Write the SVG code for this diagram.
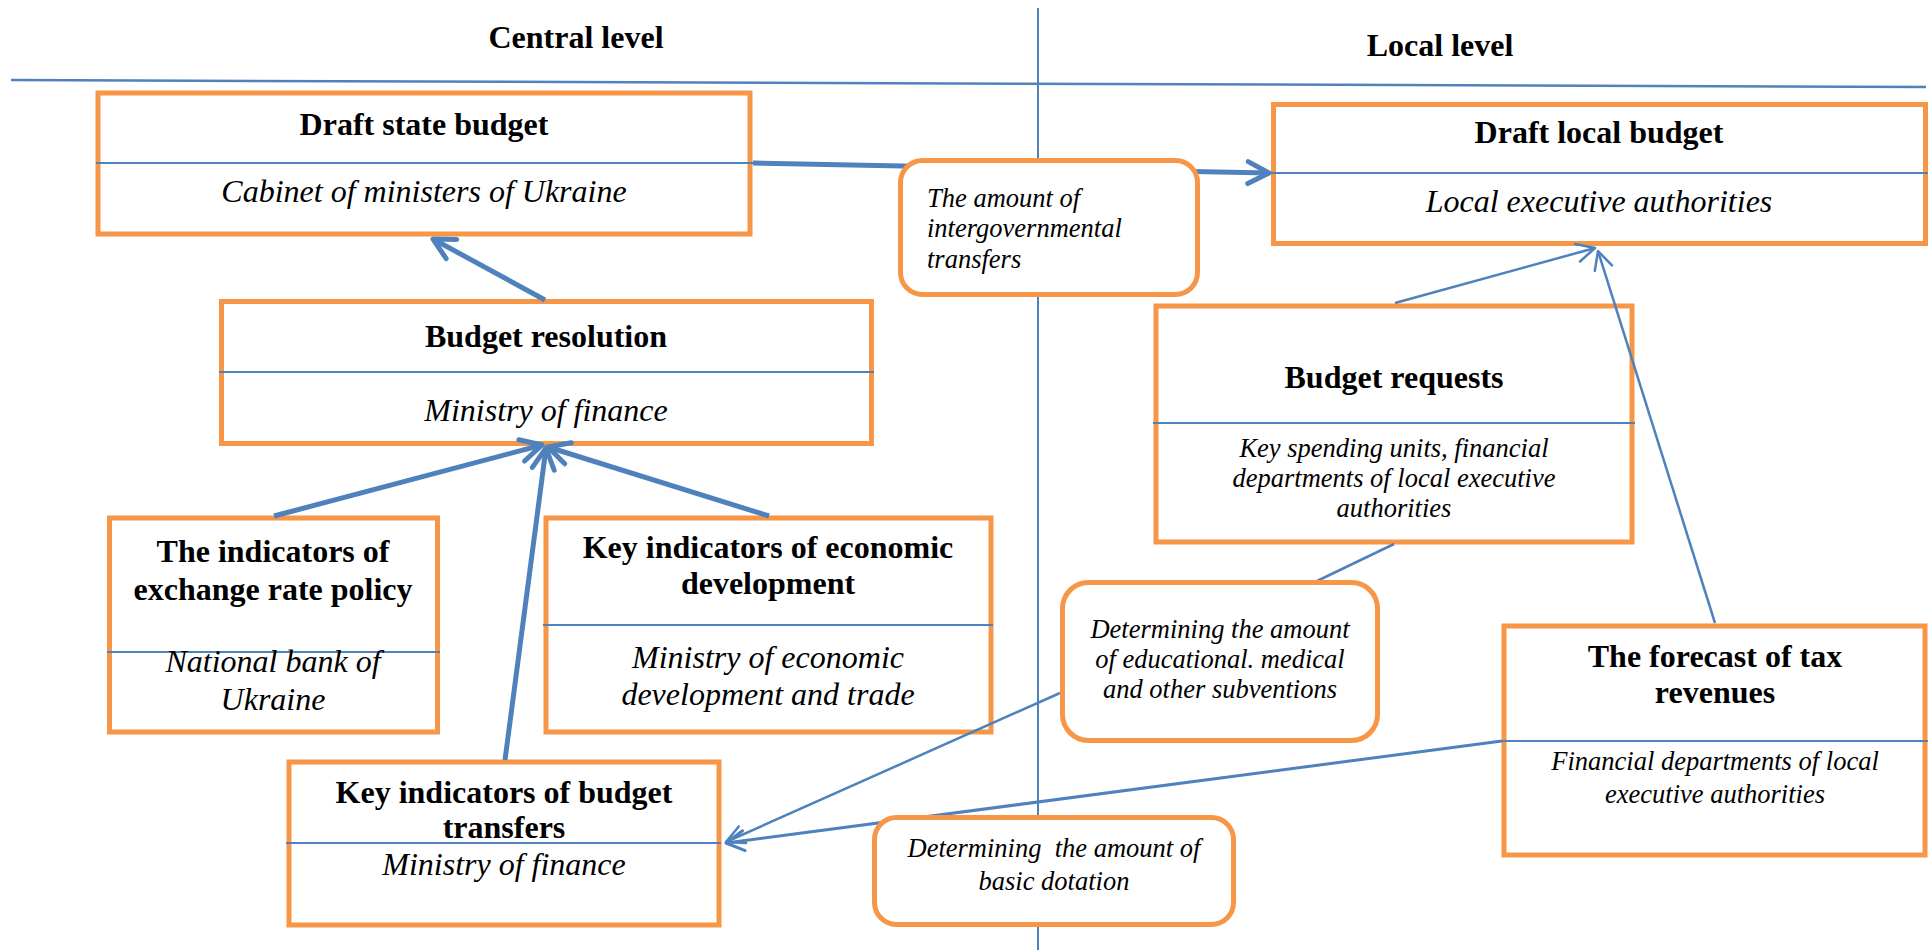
<svg xmlns="http://www.w3.org/2000/svg" width="1932" height="950" viewBox="0 0 1932 950">
  <style>
    .box { fill: #ffffff; stroke: #F79646; stroke-width: 5; }
    .sep { stroke: #4F81BD; stroke-width: 2; }
    .guide { stroke: #4F81BD; fill: none; }
    .title { font-family: "Liberation Serif", "Times New Roman", serif; font-weight: bold; font-size: 32px; text-anchor: middle; fill: #000; }
    .sub { font-family: "Liberation Serif", "Times New Roman", serif; font-style: italic; font-size: 32px; text-anchor: middle; fill: #000; }
    .note { font-family: "Liberation Serif", "Times New Roman", serif; font-style: italic; font-size: 26.5px; text-anchor: middle; fill: #000; white-space: pre; }
    .thick { stroke: #4F81BD; stroke-width: 5; fill: none; marker-end: url(#arrowBold); }
    .thin { stroke: #4F81BD; stroke-width: 2.5; fill: none; }
    .mid { stroke: #4F81BD; stroke-width: 3; fill: none; }
  </style>
  <defs>
    <marker id="arrowBold" viewBox="-26 -16 32 32" refX="0" refY="0" markerWidth="32" markerHeight="32" markerUnits="userSpaceOnUse" orient="auto">
      <path d="M-21,-11 L0,0 L-21,11" fill="none" stroke="#4F81BD" stroke-width="5" stroke-linecap="round" stroke-linejoin="round"/>
    </marker>
    <marker id="arrowThin" viewBox="-24 -14 28 28" refX="0" refY="0" markerWidth="28" markerHeight="28" markerUnits="userSpaceOnUse" orient="auto">
      <path d="M-18,-9 L0,0 L-18,9" fill="none" stroke="#4F81BD" stroke-width="2.5" stroke-linecap="round" stroke-linejoin="round"/>
    </marker>
    <marker id="arrowMid" viewBox="-24 -14 28 28" refX="0" refY="0" markerWidth="28" markerHeight="28" markerUnits="userSpaceOnUse" orient="auto">
      <path d="M-18,-10 L0,0 L-18,10" fill="none" stroke="#4F81BD" stroke-width="3" stroke-linecap="round" stroke-linejoin="round"/>
    </marker>
  </defs>

  <rect width="1932" height="950" fill="#ffffff"/>

  <!-- level headings and dividing lines -->
  <g id="levels">
    <line class="guide" x1="11" y1="80" x2="1926" y2="87" stroke-width="2.5"/>
    <line class="guide" x1="1038" y1="8" x2="1038" y2="950" stroke-width="2"/>
    <text class="title" x="576" y="48">Central level</text>
    <text class="title" x="1440" y="56">Local level</text>
  </g>

  <!-- central level -->
  <g id="draft-state-budget">
    <rect class="box" x="98" y="93" width="652" height="141"/>
    <line class="sep" x1="96" y1="163" x2="753" y2="163"/>
    <text class="title" x="424" y="135">Draft state budget</text>
    <text class="sub" x="424" y="202">Cabinet of ministers of Ukraine</text>
  </g>

  <g id="budget-resolution">
    <rect class="box" x="221.5" y="301.5" width="650" height="142"/>
    <line class="sep" x1="219" y1="372" x2="874" y2="372"/>
    <text class="title" x="546" y="347">Budget resolution</text>
    <text class="sub" x="546" y="421">Ministry of finance</text>
  </g>

  <g id="exchange-rate-policy">
    <rect class="box" x="109.5" y="518" width="328" height="214"/>
    <line class="sep" x1="107" y1="652" x2="440" y2="652"/>
    <text class="title" x="273" y="562">The indicators of</text>
    <text class="title" x="273" y="600">exchange rate policy</text>
    <text class="sub" x="273" y="672">National bank of</text>
    <text class="sub" x="273" y="710">Ukraine</text>
  </g>

  <g id="economic-development">
    <rect class="box" x="546" y="518" width="445" height="214"/>
    <line class="sep" x1="543" y1="625" x2="993" y2="625"/>
    <text class="title" x="768" y="558">Key indicators of economic</text>
    <text class="title" x="768" y="594">development</text>
    <text class="sub" x="768" y="668">Ministry of economic</text>
    <text class="sub" x="768" y="705">development and trade</text>
  </g>

  <g id="budget-transfers">
    <rect class="box" x="289" y="762" width="430" height="163"/>
    <line class="sep" x1="286" y1="843" x2="721" y2="843"/>
    <text class="title" x="504" y="803">Key indicators of budget</text>
    <text class="title" x="504" y="838">transfers</text>
    <text class="sub" x="504" y="875">Ministry of finance</text>
  </g>

  <!-- local level -->
  <g id="draft-local-budget">
    <rect class="box" x="1273.5" y="104.5" width="652" height="139"/>
    <line class="sep" x1="1271" y1="173" x2="1928" y2="173"/>
    <text class="title" x="1599" y="143">Draft local budget</text>
    <text class="sub" x="1599" y="212">Local executive authorities</text>
  </g>

  <g id="budget-requests">
    <rect class="box" x="1156" y="306" width="476" height="236"/>
    <line class="sep" x1="1153" y1="423" x2="1635" y2="423"/>
    <text class="title" x="1394" y="388">Budget requests</text>
    <text class="note" x="1394" y="457">Key spending units, financial</text>
    <text class="note" x="1394" y="487">departments of local executive</text>
    <text class="note" x="1394" y="517">authorities</text>
  </g>

  <g id="tax-revenue-forecast">
    <rect class="box" x="1504" y="626" width="421" height="229"/>
    <line class="sep" x1="1501" y1="741" x2="1928" y2="741"/>
    <text class="title" x="1715" y="667">The forecast of tax</text>
    <text class="title" x="1715" y="703">revenues</text>
    <text class="note" x="1715" y="770">Financial departments of local</text>
    <text class="note" x="1715" y="803">executive authorities</text>
  </g>

  <!-- connectors -->
  <g id="connectors">
    <path class="thick" d="M545,300 L433,239"/>
    <path class="thick" d="M753,163 L1269,173"/>
    <path class="thick" d="M274,516 L542,445"/>
    <path class="thick" d="M769,516 L548,447"/>
    <path class="thick" d="M505,760 L546,448"/>
    <path class="thin" d="M1395,303 L1595,248" marker-end="url(#arrowThin)"/>
    <path class="thin" d="M1715,623 L1598,251" marker-end="url(#arrowThin)"/>
    <path class="thin" d="M1394,544 L1317,581"/>
    <path class="thin" d="M1060,693 L726,842" marker-end="url(#arrowThin)"/>
    <path class="mid" d="M1502,741 L726,843" marker-end="url(#arrowMid)"/>
  </g>

  <!-- rounded labels sitting on the flows -->
  <g id="intergovernmental-transfers">
    <rect class="box" x="900.5" y="160.5" width="297" height="134" rx="22"/>
    <text class="note" x="927" y="207" text-anchor="start" style="text-anchor:start">The amount of</text>
    <text class="note" x="927" y="237" style="text-anchor:start">intergovernmental</text>
    <text class="note" x="927" y="268" style="text-anchor:start">transfers</text>
  </g>

  <g id="subventions">
    <rect class="box" x="1062.5" y="582.5" width="315" height="158" rx="26"/>
    <text class="note" x="1220" y="638">Determining the amount</text>
    <text class="note" x="1220" y="668">of educational. medical</text>
    <text class="note" x="1220" y="698">and other subventions</text>
  </g>

  <g id="basic-dotation">
    <rect class="box" x="874.5" y="817.5" width="359" height="107" rx="22"/>
    <text class="note" x="1054" y="857">Determining  the amount of</text>
    <text class="note" x="1054" y="890">basic dotation</text>
  </g>
</svg>
